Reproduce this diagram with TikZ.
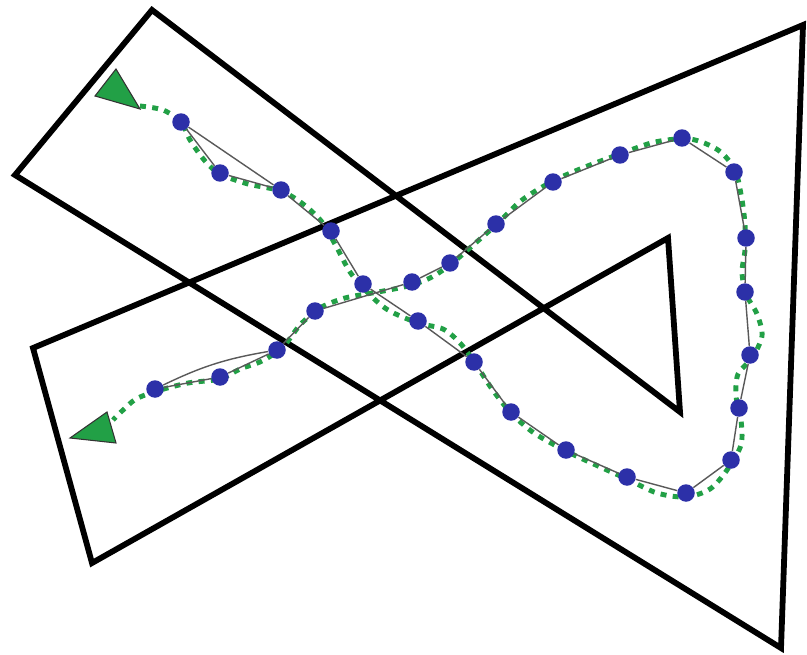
\documentclass[tikz,border=0pt]{standalone}
\usetikzlibrary{backgrounds}
\definecolor{pointblue}{RGB}{44,48,168}
\definecolor{pathgreen}{RGB}{34,160,70}

\begin{document}
\begin{tikzpicture}[x=0.02cm,y=-0.02cm,
  bord/.style={line width=3.3pt,black,line join=miter},
  point/.style={circle,fill=pointblue,inner sep=0pt,minimum size=0.35cm},
  trace/.style={line width=0.8pt,black!65},
  chemin/.style={line width=2.8pt,pathgreen,dash pattern=on 3.4pt off 3.6pt},
  tete/.style={fill=pathgreen,draw=black!80,line width=0.6pt,line join=miter}
]
\useasboundingbox (0,0) rectangle (807,655);
%% Points
\node[point] (d1)  at (181,122) {};
\node[point] (d2)  at (220,173) {};
\node[point] (d3)  at (281,190) {};
\node[point] (d4)  at (331,231) {};
\node[point] (d5)  at (363,284) {};
\node[point] (d6)  at (418,321) {};
\node[point] (d7)  at (474,362) {};
\node[point] (d8)  at (511,412) {};
\node[point] (d9)  at (566,450) {};
\node[point] (d10) at (627,477) {};
\node[point] (d11) at (686,493) {};
\node[point] (d12) at (731,460) {};
\node[point] (d13) at (739,408) {};
\node[point] (d14) at (750,355) {};
\node[point] (d15) at (745,292) {};
\node[point] (d16) at (746,238) {};
\node[point] (d17) at (734,172) {};
\node[point] (d18) at (682,138) {};
\node[point] (d19) at (620,155) {};
\node[point] (d20) at (553,182) {};
\node[point] (d21) at (496,224) {};
\node[point] (d22) at (450,263) {};
\node[point] (d23) at (412,282) {};
\node[point] (d24) at (315,311) {};
\node[point] (d25) at (277,350) {};
\node[point] (d26) at (220,377) {};
\node[point] (d27) at (155,389) {};
\begin{scope}[on background layer]
%% Contour
\draw[bord] (152,10) -- (680,412) -- (668,238) -- (92,563) -- (33,348)
  -- (803,25) -- (781,648) -- (15,175) -- cycle;
%% Chemin
\draw[chemin] plot[smooth,tension=0.5] coordinates {
  (140,106) (163,110) (181,122) (190,140) (205,161) (220,174) (248,184)
  (281,191) (303,204) (322,222) (336,246) (350,272) (367,292) (388,310)
  (418,323) (443,329) (460,343) (475,363) (492,389) (511,413) (534,433)
  (566,451) (598,466) (627,479) (657,493) (686,497) (710,489) (727,470)
  (741,445) (741,420) (736,396) (738,374) (752,358) (762,336) (757,314)
  (746,294) (742,272) (745,250) (745,225) (742,200) (735,170) (718,150)
  (690,139) (655,142) (620,154) (585,167) (553,181) (522,200) (497,224)
  (472,246) (450,265) (430,278) (408,286) (378,292) (345,298) (320,308)
  (300,325) (283,347) (262,361) (240,369) (220,379) (188,383) (157,391)
  (136,399) (122,411) (113,420)};
%% Trace
\draw[trace] (d1) -- (d2) -- (d3) -- (d4) -- (d5) -- (d6) -- (d7) -- (d8)
  -- (d9) -- (d10) -- (d11) -- (d12) -- (d13) -- (d14) -- (d15) -- (d16)
  -- (d17) -- (d18) -- (d19) -- (d20) -- (d21) -- (d22) -- (d23) -- (d24)
  -- (d25) -- (d26) -- (d27);
\draw[trace] (d1) -- (d3);
\draw[trace] (d25) to[bend right=8] (d27);
\end{scope}
%% Tetes
\filldraw[tete] (95,96) -- (116,69) -- (140,109) -- cycle;
\filldraw[tete] (70,438) -- (107,412) -- (116,443) -- cycle;
\end{tikzpicture}
\end{document}
